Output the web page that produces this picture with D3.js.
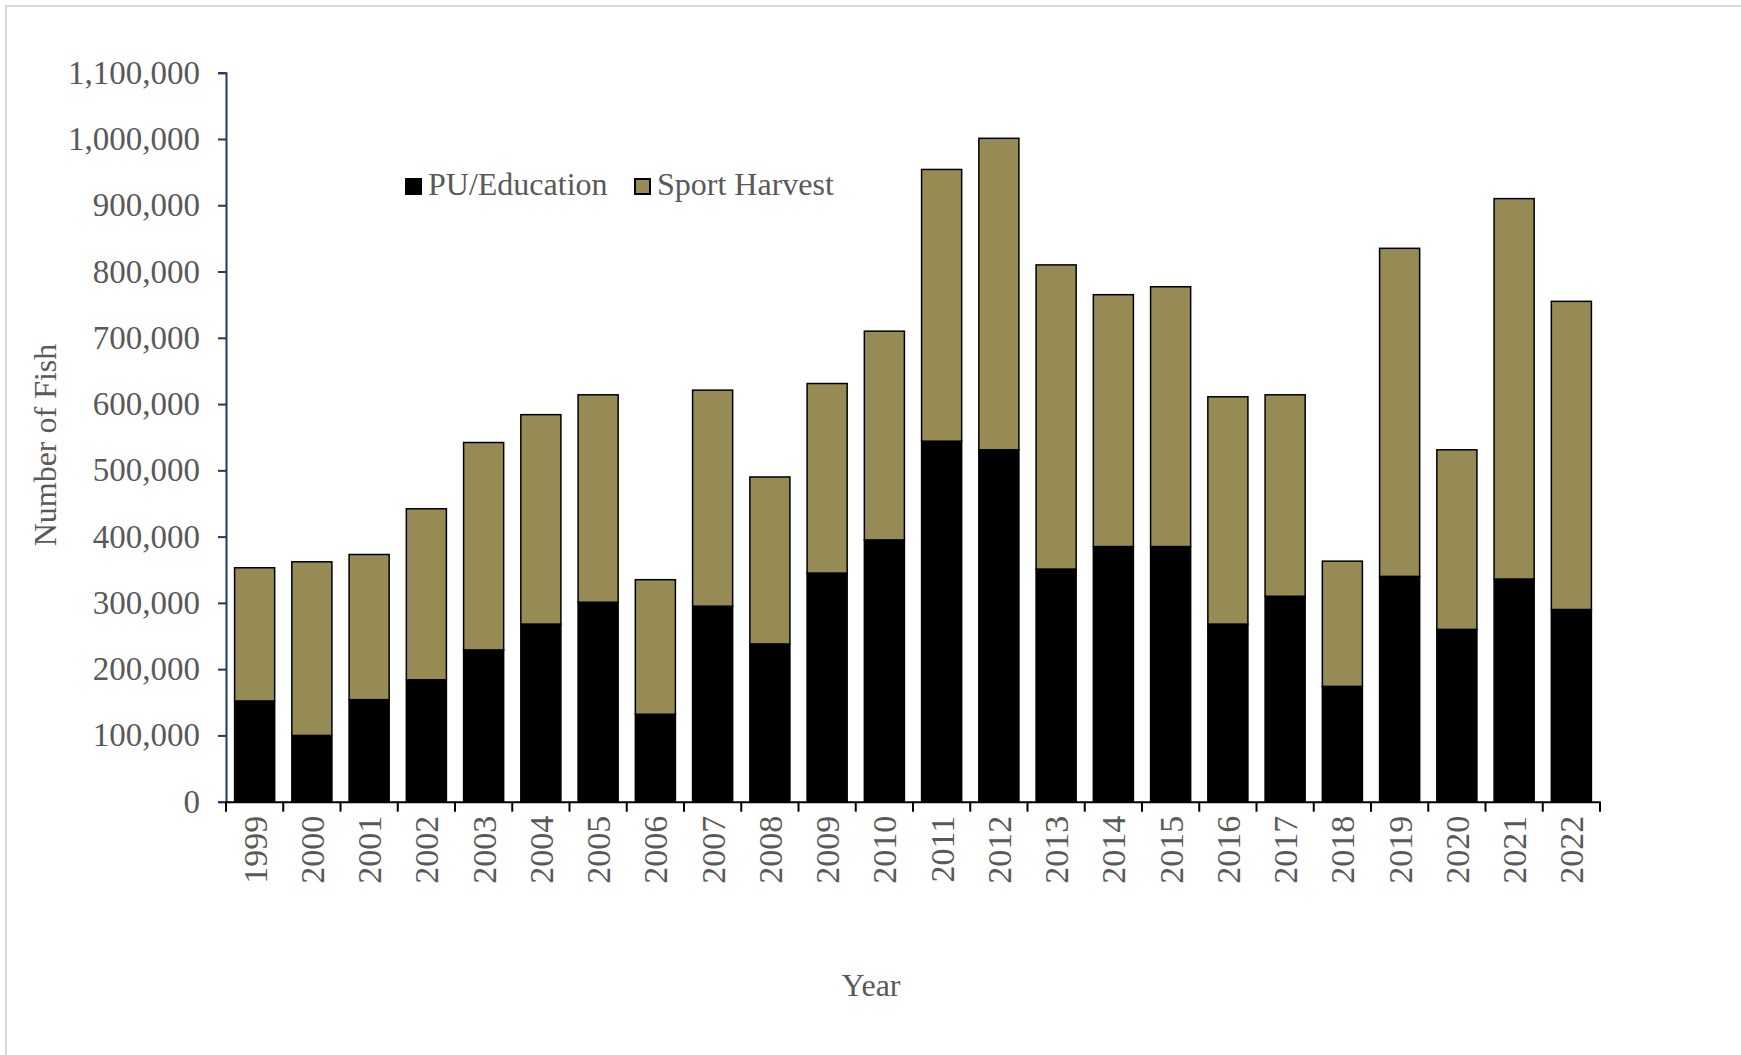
<!DOCTYPE html>
<html>
<head>
<meta charset="utf-8">
<script src="https://cdn.jsdelivr.net/npm/d3@7"></script>
<style>
  body { margin: 0; background: #fff; }
  text { font-family: "Liberation Serif", "Times New Roman", serif; fill: #595959; }
</style>
</head>
<body>
<div id="chart"></div>
<script>
//------------------------------DATA------------------------------//
var years = ["1999","2000","2001","2002","2003","2004","2005","2006","2007","2008","2009","2010",
             "2011","2012","2013","2014","2015","2016","2017","2018","2019","2020","2021","2022"];

var puEducation = [152000, 100000, 154000, 184000, 229000, 268000, 301000, 132000, 295000, 238000, 345000, 395000,
                   544000, 531000, 351000, 385000, 385000, 268000, 310000, 174000, 340000, 260000, 336000, 290000];

var sportHarvest = [201000, 262000, 219000, 258000, 313000, 316000, 313000, 203000, 326000, 252000, 286000, 315000,
                    410000, 470000, 459000, 380000, 392000, 343000, 304000, 189000, 495000, 271000, 574000, 465000];

var seriesNames = ["PU/Education", "Sport Harvest"];
var seriesColors = ["#000000", "#968b55"];
var yTicks = [0, 100000, 200000, 300000, 400000, 500000, 600000, 700000, 800000, 900000, 1000000, 1100000];

//----------------------------SETUP-------------------------------//
var W = 1741, H = 1055;
var plotLeft = 226, plotRight = 1600, plotTop = 72.7, plotBottom = 801.7;

var svg = d3.select("#chart").append("svg")
    .attr("width", W)
    .attr("height", H);

// light frame round the chart area
svg.append("rect")
    .attr("x", 6).attr("y", 6)
    .attr("width", W).attr("height", H + 20)
    .attr("fill", "none")
    .attr("stroke", "#d9d9d9")
    .attr("stroke-width", 2);

var table = years.map(function(yr, i) {
    return { year: yr, "PU/Education": puEducation[i], "Sport Harvest": sportHarvest[i] };
});

var stacked = d3.stack().keys(seriesNames)(table);

//----------------------------SCALES------------------------------//
var x = d3.scaleBand().domain(years).range([plotLeft, plotRight]).paddingInner(0.3).paddingOuter(0.15);
var y = d3.scaleLinear().domain([0, 1100000]).range([plotBottom, plotTop]);
var color = d3.scaleOrdinal().domain(seriesNames).range(seriesColors);

//-----------------------------BARS-------------------------------//
var layers = svg.selectAll("g.layer")
    .data(stacked)
    .enter()
    .append("g")
    .attr("class", "layer")
    .attr("fill", function(d) { return color(d.key); });

layers.selectAll("rect")
    .data(function(d) { return d; })
    .enter()
    .append("rect")
    .attr("x", function(d) { return x(d.data.year); })
    .attr("y", function(d) { return y(d[1]); })
    .attr("width", x.bandwidth())
    .attr("height", function(d) { return y(d[0]) - y(d[1]); })
    .attr("stroke", "#000")
    .attr("stroke-width", 1.5);

//-----------------------------AXES-------------------------------//
var yAxis = d3.axisLeft(y)
    .tickValues(yTicks)
    .tickSize(8)
    .tickPadding(18)
    .tickFormat(d3.format(","));

var gy = svg.append("g")
    .attr("transform", "translate(" + plotLeft + ",0)")
    .call(yAxis);
gy.select(".domain").attr("stroke", "#1f3864").attr("stroke-width", 2);
gy.selectAll(".tick line").attr("stroke", "#1f3864").attr("stroke-width", 2);
gy.selectAll(".tick text")
    .style("font-size", "33px")
    .style("font-family", "'Liberation Serif', serif")
    .attr("fill", "#595959");

var xAxis = d3.axisBottom(x).tickSize(0).tickPadding(0);
var gx = svg.append("g")
    .attr("transform", "translate(0," + plotBottom + ")")
    .call(xAxis);
gx.select(".domain").attr("stroke", "#000").attr("stroke-width", 2);
gx.selectAll(".tick text")
    .attr("transform", "rotate(-90)")
    .attr("x", -14)
    .attr("y", 0)
    .attr("dy", "0.35em")
    .style("text-anchor", "end")
    .style("font-size", "34px")
    .style("font-family", "'Liberation Serif', serif")
    .attr("fill", "#595959");

// category boundary ticks
var bounds = d3.range(years.length + 1).map(function(i) { return plotLeft + i * (plotRight - plotLeft) / years.length; });
gx.selectAll("line.bound")
    .data(bounds)
    .enter()
    .append("line")
    .attr("class", "bound")
    .attr("x1", function(d) { return d; })
    .attr("x2", function(d) { return d; })
    .attr("y1", 0)
    .attr("y2", 10)
    .attr("stroke", "#000")
    .attr("stroke-width", 2);

//----------------------------TITLES------------------------------//
svg.append("text")
    .attr("transform", "translate(56,445) rotate(-90)")
    .attr("text-anchor", "middle")
    .style("font-size", "32px")
    .text("Number of Fish");

svg.append("text")
    .attr("x", 871)
    .attr("y", 996)
    .attr("text-anchor", "middle")
    .style("font-size", "32px")
    .text("Year");

//----------------------------LEGEND------------------------------//
var legendX = [405, 634];
var legend = svg.selectAll("g.legend")
    .data(seriesNames)
    .enter()
    .append("g")
    .attr("class", "legend")
    .attr("transform", function(d, i) { return "translate(" + legendX[i] + ",178)"; });

legend.append("rect")
    .attr("x", 1).attr("y", 1)
    .attr("width", 15).attr("height", 15)
    .attr("fill", function(d) { return color(d); })
    .attr("stroke", "#000")
    .attr("stroke-width", 2);

legend.append("text")
    .attr("x", 23)
    .attr("y", 17)
    .style("font-size", "32px")
    .text(function(d) { return d; });
</script>
</body>
</html>
